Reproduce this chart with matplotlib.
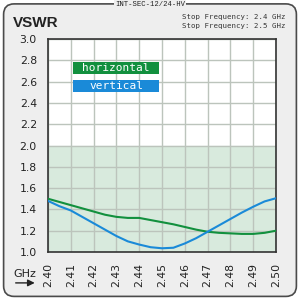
import matplotlib
matplotlib.use("Agg")
import matplotlib.pyplot as plt
from matplotlib.patches import FancyBboxPatch, Rectangle, FancyArrowPatch

freq = [2.400, 2.405, 2.410, 2.415, 2.420, 2.425, 2.430, 2.435, 2.440, 2.445,
        2.450, 2.455, 2.460, 2.465, 2.470, 2.475, 2.480, 2.485, 2.490, 2.495, 2.500]
horizontal = [1.50, 1.47, 1.44, 1.41, 1.38, 1.35, 1.33, 1.32, 1.32, 1.30,
              1.28, 1.26, 1.235, 1.21, 1.19, 1.18, 1.175, 1.17, 1.17, 1.18, 1.20]
vertical = [1.48, 1.43, 1.39, 1.33, 1.27, 1.21, 1.15, 1.10, 1.07, 1.045,
            1.035, 1.04, 1.08, 1.13, 1.19, 1.25, 1.31, 1.37, 1.425, 1.475, 1.505]
xticks = [2.40, 2.41, 2.42, 2.43, 2.44, 2.45, 2.46, 2.47, 2.48, 2.49, 2.50]
yticks = [1.0, 1.2, 1.4, 1.6, 1.8, 2.0, 2.2, 2.4, 2.6, 2.8, 3.0]
series_names = ["horizontal", "vertical"]
series_colors = ["#12903e", "#1a8ad8"]

fig = plt.figure(figsize=(3, 3), dpi=100)
fig.patch.set_facecolor("white")

# outer frame
frame = FancyBboxPatch((0.012, 0.012), 0.976, 0.975,
                       boxstyle="round,pad=0,rounding_size=0.035",
                       transform=fig.transFigure, facecolor="#eeeeee",
                       edgecolor="#4a4a4a", linewidth=1.2, zorder=0)
fig.patches.append(frame)

fig.text(0.5, 0.985, "INT-SEC-12/24-HV", ha="center", va="center",
         fontsize=5.2, family="Liberation Mono", color="#222222",
         bbox=dict(facecolor="#eeeeee", edgecolor="none", pad=1.0))
fig.text(0.043, 0.91, "VSWR", ha="left", va="baseline", fontsize=11,
         fontweight="bold", color="#222222", family="Liberation Sans")
fig.text(0.953, 0.943, "Stop Frequency: 2.4 GHz", ha="right", va="center",
         fontsize=5.3, family="DejaVu Sans Mono", color="#333333")
fig.text(0.953, 0.912, "Stop Frequency: 2.5 GHz", ha="right", va="center",
         fontsize=5.3, family="DejaVu Sans Mono", color="#333333")

ax = fig.add_axes([48/300, 48/300, 228/300, 213/300])
ax.set_zorder(2)
ax.set_facecolor("white")
ax.set_xlim(2.40, 2.50)
ax.set_ylim(1.0, 3.0)
ax.axhspan(1.0, 2.0, color="#d8eadd", zorder=0)
ax.set_xticks(xticks)
ax.set_yticks(yticks)
ax.set_xticklabels([f"{v:.2f}" for v in xticks], rotation=90)
ax.set_yticklabels([f"{v:.1f}" for v in yticks])
ax.grid(True, color="#bcc4bc", linewidth=1.0, zorder=1)
ax.set_axisbelow(True)
ax.tick_params(length=0, labelsize=7.8, labelcolor="#222222", pad=8)
for s in ax.spines.values():
    s.set_color("#333333")
    s.set_linewidth(1.2)

ax.plot(freq, horizontal, color=series_colors[0], linewidth=1.5, zorder=3)
ax.plot(freq, vertical, color=series_colors[1], linewidth=1.5, zorder=3)

# legend boxes
for i, (name, col) in enumerate(zip(series_names, series_colors)):
    y0 = 0.752 - i * 0.060
    fig.patches.append(Rectangle((73/300, y0), 86/300, 12/300,
                                 transform=fig.transFigure, facecolor=col,
                                 edgecolor="none", zorder=5))
    fig.text((73 + 43)/300, y0 + 6/300, name, ha="center", va="center",
             fontsize=8, color="white", family="DejaVu Sans Mono", zorder=6)

fig.text(0.043, 0.058 + 0.03, "GHz", ha="left", va="center", fontsize=8,
         color="#222222")
fig.add_artist(FancyArrowPatch(
    (0.043, 0.027 + 0.03), (0.125, 0.027 + 0.03), transform=fig.transFigure,
    arrowstyle="-|>,head_length=4,head_width=2", color="#222222",
    linewidth=1.0, mutation_scale=1))

fig.savefig("out.png", dpi=100)
